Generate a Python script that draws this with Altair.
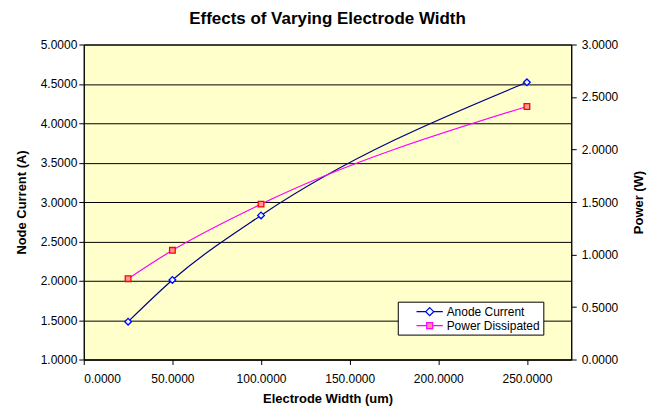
import altair as alt
import pandas as pd

widths = [25, 50, 100, 250]
anode_current = [1.48, 2.01, 2.83, 4.52]
power_dissipated = [0.77, 1.04, 1.48, 2.41]
series_names = ["Anode Current", "Power Dissipated"]

rows = []
for w, a in zip(widths, anode_current):
    rows.append({"width": w, "value": a, "series": series_names[0]})
for w, p in zip(widths, power_dissipated):
    rows.append({"width": w, "value": p, "series": series_names[1]})
df = pd.DataFrame(rows)
legend_df = pd.DataFrame({"series": series_names, "width": [25, 25], "value": [1.48, 0.77]})

FONT = "Liberation Sans"

# legend symbols: short line with the marker in the middle (unit = 6 px at symbolSize 144)
diamond_leg = "M-2.2,0L-0.67,0M0.67,0L2.2,0M0,-0.67L0.67,0L0,0.67L-0.67,0Z"
square_leg = "M-2.2,0L-0.5,0M0.5,0L2.2,0M-0.5,-0.5L0.5,-0.5L0.5,0.5L-0.5,0.5Z"

x_enc = alt.X("width:Q", scale=alt.Scale(domain=[0, 275], nice=False, zero=False),
              axis=alt.Axis(title="Electrode Width (um)", values=[0, 50, 100, 150, 200, 250],
                            format=".4f", grid=False, titlePadding=8, labelPadding=9))

y_left = alt.Y("value:Q", scale=alt.Scale(domain=[1, 5], nice=False, zero=False),
               axis=alt.Axis(title="Node Current (A)", values=[1, 1.5, 2, 2.5, 3, 3.5, 4, 4.5, 5],
                             format=".4f", grid=True, gridColor="#000000", gridWidth=1,
                             titlePadding=12, labelPadding=2))
y_right = alt.Y("value:Q", scale=alt.Scale(domain=[0, 3], nice=False, zero=False),
                axis=alt.Axis(title="Power (W)", orient="right", titleAngle=270,
                              values=[0, 0.5, 1, 1.5, 2, 2.5, 3],
                              format=".4f", grid=False, titlePadding=28, labelPadding=5))

base = alt.Chart(df)
anode = base.transform_filter(alt.datum.series == series_names[0])
power = base.transform_filter(alt.datum.series == series_names[1])

legend_props = dict(title=None, orient="none", legendX=315, legendY=258)

anode_layer = alt.layer(
    anode.mark_line(color="#000080", strokeWidth=1.2, interpolate="monotone").encode(x=x_enc, y=y_left),
    anode.mark_point(shape="diamond", size=45, strokeWidth=1.3, filled=False, opacity=1,
                     stroke="#0000FF", fill="#DDFFFF", fillOpacity=1).encode(x=x_enc, y=y_left),
    alt.Chart(legend_df).mark_point(opacity=0, filled=False).encode(
        x=x_enc, y=y_left,
        shape=alt.Shape("series:N", scale=alt.Scale(domain=series_names, range=[diamond_leg, square_leg]),
                        legend=alt.Legend(fillColor="white", strokeColor="black", padding=3,
                                          symbolOffset=22, labelOffset=10,
                                          labelFont=FONT, labelFontSize=12, labelColor="black",
                                          labelExpr="datum.label + '\u2007\u2007'",
                                          symbolSize=144, symbolStrokeWidth=1.2, symbolOpacity=1,
                                          rowPadding=0, labelLimit=220, **legend_props)),
        stroke=alt.Stroke("series:N", scale=alt.Scale(domain=series_names, range=["#0000CC", "#FF00FF"]),
                          legend=alt.Legend(**legend_props)),
        fill=alt.Fill("series:N", scale=alt.Scale(domain=series_names, range=["#DDFFFF", "#FF9999"]),
                      legend=alt.Legend(**legend_props)),
    ),
)
power_layer = alt.layer(
    power.mark_line(color="#FF00FF", strokeWidth=1.2, interpolate="monotone").encode(x=x_enc, y=y_right),
    power.mark_point(shape="square", size=32, strokeWidth=1.3, filled=False, opacity=1,
                     stroke="#FF0000", fill="#FF9999", fillOpacity=1).encode(x=x_enc, y=y_right),
)

chart = alt.layer(anode_layer, power_layer).resolve_scale(y="independent").properties(
    width=489, height=316,
    padding={"left": 7, "top": 1, "right": 2, "bottom": 0},
    title=alt.Title("Effects of Varying Electrode Width", font=FONT, fontSize=17,
                    fontWeight="bold", color="black", offset=11),
).configure_view(fill="#FFFFCC", stroke="#000000", strokeWidth=1).configure_axis(
    labelFont=FONT, labelFontSize=12, labelColor="black",
    titleFont=FONT, titleFontSize=13, titleFontWeight="bold", titleColor="black",
    domainColor="black", tickColor="black", tickSize=5,
)

chart.save("out.html", embed_options={"renderer": "svg", "actions": False})
